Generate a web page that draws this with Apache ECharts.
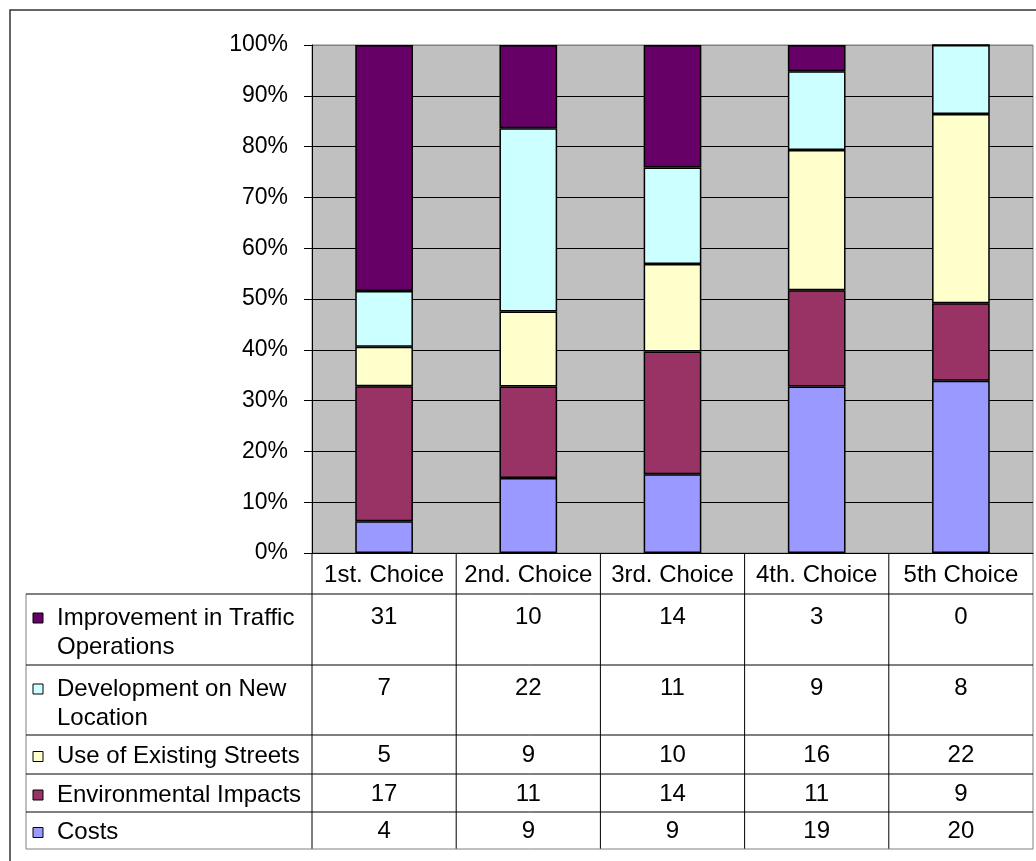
<!DOCTYPE html>
<html>
<head>
<meta charset="utf-8">
<script src="https://cdn.jsdelivr.net/npm/echarts@6/dist/echarts.min.js"></script>
<style>
html,body{margin:0;padding:0;background:#fff;}
#chart{width:1036px;height:861px;}
</style>
</head>
<body>
<div id="chart"></div>
<script>
// ---- data ----
const categories = ['1st. Choice', '2nd. Choice', '3rd. Choice', '4th. Choice', '5th Choice'];
// stack order bottom -> top
const seriesNames = ['Costs', 'Environmental Impacts', 'Use of Existing Streets', 'Development on New Location', 'Improvement in Traffic Operations'];
const costs = [4, 9, 9, 19, 20];
const environmentalImpacts = [17, 11, 14, 11, 9];
const existingStreets = [5, 9, 10, 16, 22];
const newLocation = [7, 22, 11, 9, 8];
const trafficOperations = [31, 10, 14, 3, 0];
// table row labels (top -> bottom), as printed in the data table
const tableLabels = [
  ['Improvement in Traffic', 'Operations'],
  ['Development on New', 'Location'],
  ['Use of Existing Streets'],
  ['Environmental Impacts'],
  ['Costs']
];
const yTickValues = [0, 10, 20, 30, 40, 50, 60, 70, 80, 90, 100];

// ---- styling ----
const colors = ['#9999ff', '#993366', '#ffffcc', '#ccffff', '#660066'];
const FONT = '"Liberation Sans", Arial, sans-serif';
const FS_Y = 23;
const FS = 24;

const raw = [costs, environmentalImpacts, existingStreets, newLocation, trafficOperations];
const totals = categories.map((c, i) => raw.reduce((s, arr) => s + arr[i], 0));
const pct = raw.map(arr => arr.map((v, i) => v / totals[i] * 100));

const GRID = { left: 312, top: 45, width: 721, height: 508 };

const chart = echarts.init(document.getElementById('chart'), null, { renderer: 'canvas' });

const splitColors = yTickValues.map((v, i) => i === yTickValues.length - 1 ? '#808080' : '#000000');

chart.setOption({
  animation: false,
  backgroundColor: '#ffffff',
  grid: {
    left: GRID.left, top: GRID.top, width: GRID.width, height: GRID.height,
    show: true, backgroundColor: '#c0c0c0', borderColor: '#808080', borderWidth: 1
  },
  xAxis: {
    type: 'category',
    data: categories,
    axisLine: { show: true, lineStyle: { color: '#000', width: 1 } },
    axisTick: { show: false },
    axisLabel: { fontSize: FS, fontFamily: FONT, color: '#000', margin: 10, interval: 0 }
  },
  yAxis: {
    type: 'value',
    min: 0, max: 100, interval: 10,
    axisLine: { show: true, lineStyle: { color: '#000', width: 1 } },
    axisTick: { show: true, length: 8, lineStyle: { color: '#000' } },
    axisLabel: { formatter: '{value}%', fontSize: FS_Y, fontFamily: FONT, color: '#000', margin: 24 },
    splitLine: { show: true, lineStyle: { color: splitColors, width: 1 } }
  },
  series: seriesNames.map((name, k) => ({
    name: name,
    type: 'bar',
    stack: 'total',
    barWidth: '40%',
    data: pct[k],
    itemStyle: { color: colors[k], borderColor: '#000', borderWidth: 1.5 }
  }))
});

// ---- data table drawn under the plot ----
function buildTable() {
  const band = GRID.width / categories.length;
  const centers = categories.map((c, i) => chart.convertToPixel({ xAxisIndex: 0 }, i));
  const bounds = [centers[0] - band / 2].concat(centers.map(c => c + band / 2));
  const axisY = chart.convertToPixel({ yAxisIndex: 0 }, 0);
  const tableLeft = 26;
  const rowTops = [594, 665, 735, 774, 812, 849];
  const els = [];

  // outer frame (left & top visible)
  els.push({ type: 'rect', shape: { x: 10, y: 10, width: 1100, height: 1000 }, style: { fill: 'none', stroke: '#333', lineWidth: 1.5 }, silent: true });

  // vertical lines at category boundaries
  bounds.forEach((x, i) => {
    els.push({ type: 'line', shape: { x1: x, y1: axisY, x2: x, y2: rowTops[rowTops.length - 1] },
      style: { stroke: (i === bounds.length - 1) ? '#808080' : '#000', lineWidth: 1 } });
  });
  // left edge of data rows
  els.push({ type: 'line', shape: { x1: tableLeft, y1: rowTops[0], x2: tableLeft, y2: rowTops[rowTops.length - 1] },
    style: { stroke: '#808080', lineWidth: 1 } });
  // horizontal lines
  rowTops.forEach((y, i) => {
    els.push({ type: 'line', shape: { x1: tableLeft, y1: y, x2: bounds[bounds.length - 1], y2: y },
      style: { stroke: (i === rowTops.length - 1) ? '#808080' : '#000', lineWidth: 1 } });
  });

  // rows: top -> bottom is reverse of stack order
  for (let r = 0; r < tableLabels.length; r++) {
    const k = seriesNames.length - 1 - r;
    const top = rowTops[r], bottom = rowTops[r + 1];
    const lines = tableLabels[r];
    const firstY = lines.length > 1 ? top + 24 : (top + bottom) / 2 + 2;
    // legend key
    els.push({ type: 'rect', shape: { x: 33, y: firstY - 5, width: 10, height: 10 },
      style: { fill: colors[k], stroke: '#000', lineWidth: 1 } });
    lines.forEach((t, li) => {
      els.push({ type: 'text', style: { text: t, x: 57, y: firstY + li * 29, fill: '#000',
        font: FS + 'px ' + FONT, textAlign: 'left', textVerticalAlign: 'middle', verticalAlign: 'middle' } });
    });
    raw[k].forEach((v, i) => {
      els.push({ type: 'text', style: { text: String(v), x: centers[i], y: firstY - 1, fill: '#000',
        font: FS + 'px ' + FONT, textAlign: 'center', textVerticalAlign: 'middle', verticalAlign: 'middle' } });
    });
  }
  chart.setOption({ graphic: { elements: els } });
}
buildTable();
</script>
</body>
</html>
